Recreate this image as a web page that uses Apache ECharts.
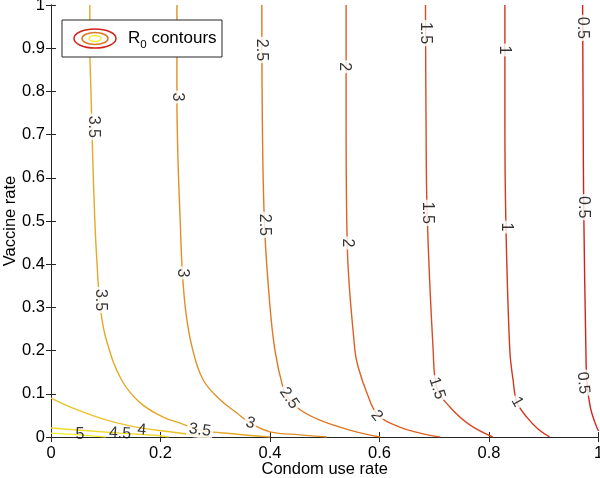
<!DOCTYPE html>
<html>
<head>
<meta charset="utf-8">
<script src="https://cdn.jsdelivr.net/npm/echarts@6/dist/echarts.min.js"></script>
<style>
  html, body { margin: 0; padding: 0; background: #fff; }
  #chart { width: 600px; height: 478px; }
</style>
</head>
<body>
<div id="chart"></div>
<script>
// contour levels (condom use rate, vaccine rate)
const levels = [0.5, 1, 1.5, 2, 2.5, 3, 3.5, 4, 4.5, 5]
const c05 = [[0.971, 1.0], [0.972, 0.734], [0.973, 0.532], [0.977, 0.201], [0.979, 0.125], [0.985, 0.069], [0.993, 0.035], [1.0, 0.014]]
const c10 = [[0.829, 1.0], [0.829, 0.734], [0.831, 0.486], [0.838, 0.201], [0.844, 0.132], [0.851, 0.081], [0.869, 0.046], [0.89, 0.018], [0.911, 0]]
const c15 = [[0.684, 1.0], [0.685, 0.734], [0.687, 0.519], [0.698, 0.201], [0.705, 0.113], [0.729, 0.069], [0.765, 0.028], [0.807, 0]]
const c20 = [[0.539, 1.0], [0.539, 0.734], [0.541, 0.449], [0.555, 0.201], [0.561, 0.162], [0.577, 0.102], [0.597, 0.051], [0.637, 0.023], [0.674, 0.009], [0.711, 0]]
const c25 = [[0.385, 1.0], [0.386, 0.734], [0.390, 0.491], [0.399, 0.317], [0.409, 0.201], [0.424, 0.113], [0.433, 0.090], [0.455, 0.063], [0.491, 0.039], [0.546, 0.016], [0.601, 0]]
const c30 = [[0.230, 1.0], [0.230, 0.787], [0.232, 0.640], [0.236, 0.500], [0.240, 0.380], [0.247, 0.282], [0.259, 0.201], [0.278, 0.132], [0.309, 0.086], [0.339, 0.056], [0.364, 0.032], [0.400, 0.012], [0.455, 0.005], [0.504, 0]]
const c35 = [[0.071, 1.0], [0.071, 0.900], [0.073, 0.801], [0.075, 0.699], [0.080, 0.502], [0.084, 0.403], [0.090, 0.301], [0.101, 0.225], [0.129, 0.132], [0.163, 0.079], [0.205, 0.046], [0.236, 0.032], [0.272, 0.016], [0.336, 0.007], [0.400, 0]]
const c40 = [[0, 0.090], [0.040, 0.067], [0.102, 0.039], [0.163, 0.021], [0.217, 0.012], [0.278, 0.002], [0.290, 0]]
const c45 = [[0, 0.021], [0.126, 0.009], [0.199, 0.003], [0.215, 0]]
const c50 = [[0, 0.009], [0.053, 0.005], [0.100, 0]]
const curves = [c05, c10, c15, c20, c25, c30, c35, c40, c45, c50]
const colors = ['#d0231c', '#d4361e', '#d84b21', '#db6124', '#de7826', '#e18f28', '#e5a82a', '#eac22c', '#efdb2f', '#f4ee31']

// inline contour labels: position, level, angle
const labelX = [0.077, 0.090, 0.272, 0.230, 0.240, 0.364, 0.384, 0.389, 0.435, 0.535, 0.541, 0.595, 0.683, 0.687, 0.705, 0.829, 0.831, 0.851, 0.970, 0.973, 0.972, 0.166, 0.126, 0.053]
const labelY = [0.718, 0.317, 0.016, 0.787, 0.380, 0.032, 0.896, 0.491, 0.090, 0.857, 0.449, 0.049, 0.935, 0.519, 0.113, 0.896, 0.486, 0.081, 0.947, 0.532, 0.125, 0.016, 0.008, 0.006]
const labelLevel = [3.5, 3.5, 3.5, 3, 3, 3, 2.5, 2.5, 2.5, 2, 2, 2, 1.5, 1.5, 1.5, 1, 1, 1, 0.5, 0.5, 0.5, 4, 4.5, 5]
const labelAngle = [-90, -90, -8, -90, -90, -18, -90, -90, -55, -90, -90, -52, -90, -90, -72, -90, -90, -60, -90, -90, -85, -5, -3, 0]

const xTicks = { min: 0, max: 1, interval: 0.2 }
const yTicks = { min: 0, max: 1, interval: 0.1 }

const chart = echarts.init(document.getElementById('chart'))
const font = 'Liberation Sans, Arial, Helvetica, sans-serif'
const axisLine = { show: true, lineStyle: { color: '#262626', width: 1 } }
const tick = { show: true, inside: true, length: 5, lineStyle: { color: '#262626' } }

const lineSeries = curves.map((pts, i) => ({
  name: String(levels[i]),
  type: 'line',
  data: pts,
  showSymbol: false,
  smooth: 0.4,
  lineStyle: { color: colors[i], width: 1.4 },
  z: 2
}))

const labelSeries = {
  type: 'scatter',
  symbolSize: 1,
  itemStyle: { color: 'rgba(0,0,0,0)' },
  z: 5,
  data: labelX.map((x, i) => ({
    value: [x, labelY[i]],
    label: {
      show: true,
      position: 'inside',
      rotate: labelAngle[i],
      formatter: String(labelLevel[i]),
      color: '#000',
      fontSize: 16,
      fontFamily: font,
      backgroundColor: labelLevel[i] >= 4 ? 'transparent' : '#fff',
      padding: [0, 2]
    }
  }))
}

chart.setOption({
  animation: false,
  grid: { left: 51, right: 1.5, top: 5, bottom: 41, containLabel: false, outerBoundsMode: 'none' },
  xAxis: [
    {
      type: 'value', ...xTicks, position: 'bottom',
      name: 'Condom use rate', nameLocation: 'middle', nameGap: 24, nameMoveOverlap: false,
      nameTextStyle: { color: '#000', fontSize: 16.5, fontFamily: font },
      axisLine, axisTick: tick, splitLine: { show: false },
      axisLabel: { color: '#000', fontSize: 16.5, fontFamily: font, margin: 8 }
    },
    {
      type: 'value', ...xTicks, position: 'top',
      axisLine, axisTick: tick, splitLine: { show: false }, axisLabel: { show: false }
    }
  ],
  yAxis: [
    {
      type: 'value', ...yTicks, position: 'left',
      name: 'Vaccine rate', nameLocation: 'middle', nameGap: 32, nameMoveOverlap: false,
      nameTextStyle: { color: '#000', fontSize: 16.5, fontFamily: font },
      axisLine, axisTick: tick, splitLine: { show: false },
      axisLabel: { color: '#000', fontSize: 16.5, fontFamily: font, margin: 6 }
    },
    {
      type: 'value', ...yTicks, position: 'right',
      axisLine, axisTick: tick, splitLine: { show: false }, axisLabel: { show: false }
    }
  ],
  graphic: [
    { type: 'rect', shape: { x: 62, y: 20, width: 160, height: 37 }, style: { fill: '#fff', stroke: '#262626', lineWidth: 1 }, z: 10 },
    { type: 'ellipse', shape: { cx: 95, cy: 38.5, rx: 21, ry: 9.5 }, style: { fill: 'none', stroke: colors[0], lineWidth: 1.5 }, z: 11 },
    { type: 'ellipse', shape: { cx: 95, cy: 38.5, rx: 13, ry: 6 }, style: { fill: 'none', stroke: colors[4], lineWidth: 1.5 }, z: 11 },
    { type: 'ellipse', shape: { cx: 95, cy: 38.5, rx: 6, ry: 3 }, style: { fill: 'none', stroke: colors[9], lineWidth: 1.5 }, z: 11 },
    {
      type: 'text', x: 128, y: 38, z: 11,
      style: {
        text: '{r|R}{s|0}{r| contours}',
        verticalAlign: 'middle',
        rich: {
          r: { fontSize: 17, fontFamily: font, fill: '#000' },
          s: { fontSize: 11.5, fontFamily: font, fill: '#000', padding: [14, 0, 0, 0] }
        }
      }
    }
  ],
  series: [...lineSeries, labelSeries]
})
</script>
</body>
</html>
